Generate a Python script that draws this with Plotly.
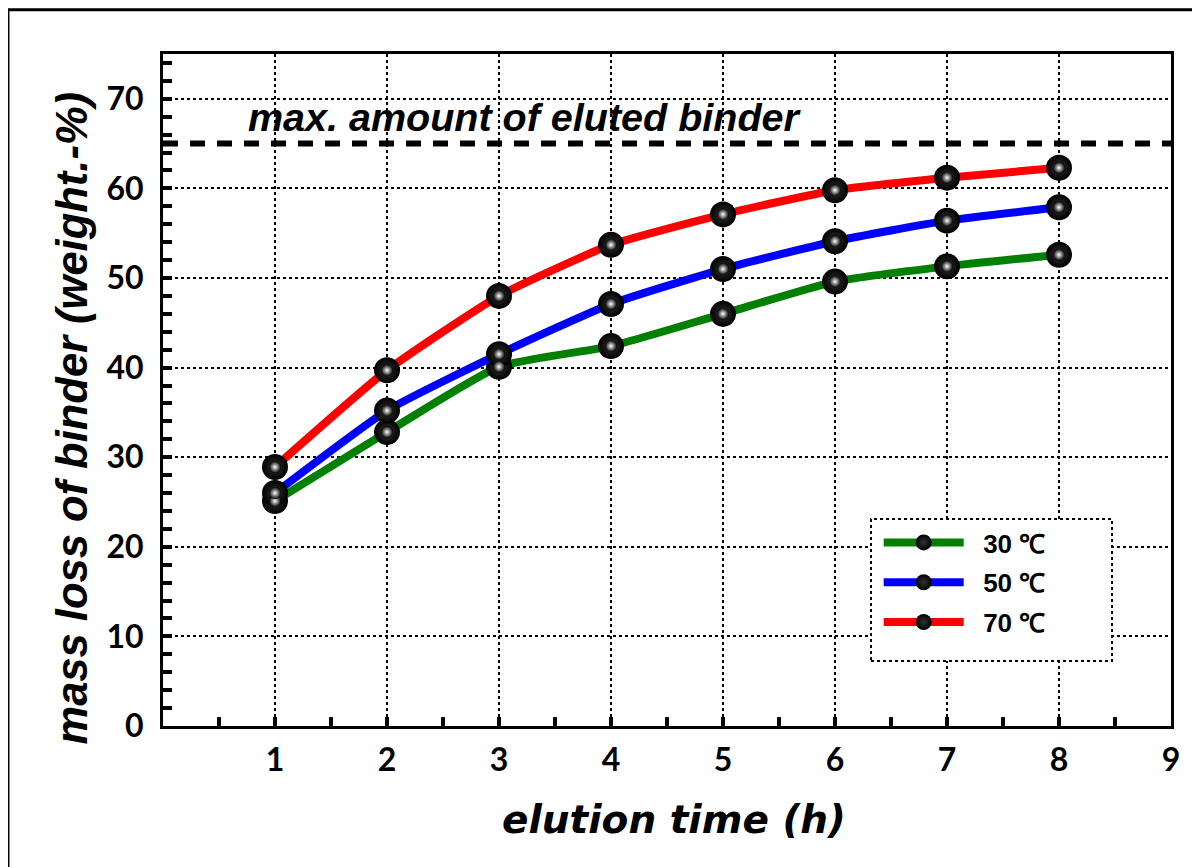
import plotly.graph_objects as go

# ---- data ----
elution_time = [1, 2, 3, 4, 5, 6, 7, 8]
loss_30C = [25.1, 32.8, 40.1, 42.4, 46.0, 49.6, 51.3, 52.6]
loss_50C = [26.0, 35.2, 41.5, 47.1, 51.0, 54.1, 56.4, 57.9]
loss_70C = [28.9, 39.7, 48.0, 53.7, 57.1, 59.8, 61.2, 62.3]
series_names = ["\u00a0\u00a030 \u2103", "\u00a0\u00a050 \u2103", "\u00a0\u00a070 \u2103"]
series_colors = ["#008000", "#0000ff", "#ff0000"]
max_eluted = 65
max_label = "max. amount of eluted binder"
x_title = "elution time (h)"
y_title = "mass loss of binder (weight.-%)"
x_ticks = [1, 2, 3, 4, 5, 6, 7, 8, 9]
y_ticks = [0, 10, 20, 30, 40, 50, 60, 70]

GEO = "Lato, 'Open Sans', sans-serif"
WIDE = "'DejaVu Sans', Verdana, sans-serif"
SANS = "'Liberation Sans', Arial, sans-serif"

fig = go.Figure()

for name, col, ys in zip(series_names, series_colors, [loss_30C, loss_50C, loss_70C]):
    fig.add_trace(go.Scatter(
        x=elution_time, y=ys, name=name, mode="lines+markers", legendgroup=name,
        line=dict(color=col, width=8, shape="spline", smoothing=0.5),
        marker=dict(size=26, color="black", line=dict(width=0),
                    gradient=dict(type="radial", color="#333333")),
    ))
for ys in [loss_30C, loss_50C, loss_70C]:
    fig.add_trace(go.Scatter(
        x=elution_time, y=ys, mode="markers", showlegend=False, hoverinfo="skip",
        marker=dict(size=12, color="black", line=dict(width=0),
                    gradient=dict(type="radial", color="white")),
    ))

# dashed max line
fig.add_shape(type="line", xref="paper", x0=0, x1=1, yref="y", y0=max_eluted, y1=max_eluted,
              line=dict(color="black", width=6, dash="15px,12px"), layer="above")
fig.add_annotation(x=0.74, y=max_eluted + 3, xref="x", yref="y", text=max_label,
                   showarrow=False, xanchor="left", yanchor="middle",
                   font=dict(family=SANS, size=39.5, color="black", weight="bold", style="italic"))

# axis titles
fig.add_annotation(x=0.507, y=-0.1384, xref="paper", yref="paper", text=x_title,
                   showarrow=False, xanchor="center", yanchor="middle",
                   font=dict(family=WIDE, size=39, color="black", weight="bold", style="italic"))
fig.add_annotation(x=-0.0903, y=0.459, xref="paper", yref="paper", text=y_title,
                   textangle=-90, showarrow=False, xanchor="center", yanchor="middle",
                   font=dict(family=SANS, size=43.5, color="black", weight="bold", style="italic"))

# legend box (dotted)
fig.add_shape(type="rect", xref="paper", yref="paper", x0=0.7024, x1=0.9415, y0=0.0967, y1=0.308,
              line=dict(color="black", width=2, dash="dot"), fillcolor="white", layer="above")

# outer frame (top + left visible)
fig.add_shape(type="rect", xref="paper", yref="paper", x0=-0.1538, x1=1.3, y0=-0.5, y1=1.066,
              line=dict(color="black", width=3), layer="below")

axis_common = dict(showline=True, linecolor="black", linewidth=3, mirror=True,
                   ticks="inside", ticklen=9, tickwidth=4, tickcolor="black",
                   showgrid=True, gridcolor="black", gridwidth=2, griddash="dot",
                   zeroline=False)

fig.update_xaxes(range=[0, 9], tickvals=x_ticks, ticktext=[str(v) for v in x_ticks],
                 minor=dict(dtick=0.5, tick0=0, ticks="inside", ticklen=9, tickwidth=4,
                            tickcolor="black", showgrid=False),
                 tickfont=dict(family=GEO, size=32, color="black", weight="bold"),
                 ticklabelstandoff=4,
                 **axis_common)
fig.update_yaxes(range=[0, 75], tickvals=y_ticks, ticktext=[str(v) for v in y_ticks],
                 minor=dict(dtick=2, tick0=0, ticks="inside", ticklen=9, tickwidth=4,
                            tickcolor="black", showgrid=False),
                 tickfont=dict(family=GEO, size=32, color="black", weight="bold"),
                 ticklabelstandoff=10,
                 **axis_common)

fig.update_layout(
    width=1200, height=867,
    margin=dict(l=155, r=37, t=46, b=149, autoexpand=False),
    paper_bgcolor="white", plot_bgcolor="white",
    showlegend=True,
    legend=dict(x=0.71, y=0.308, xanchor="left", yanchor="top", traceorder="grouped",
                bgcolor="rgba(0,0,0,0)", borderwidth=0, itemwidth=80,
                font=dict(family=SANS, size=26, color="black", weight="bold"),
                tracegroupgap=3),
)

fig.write_html("out.html")
